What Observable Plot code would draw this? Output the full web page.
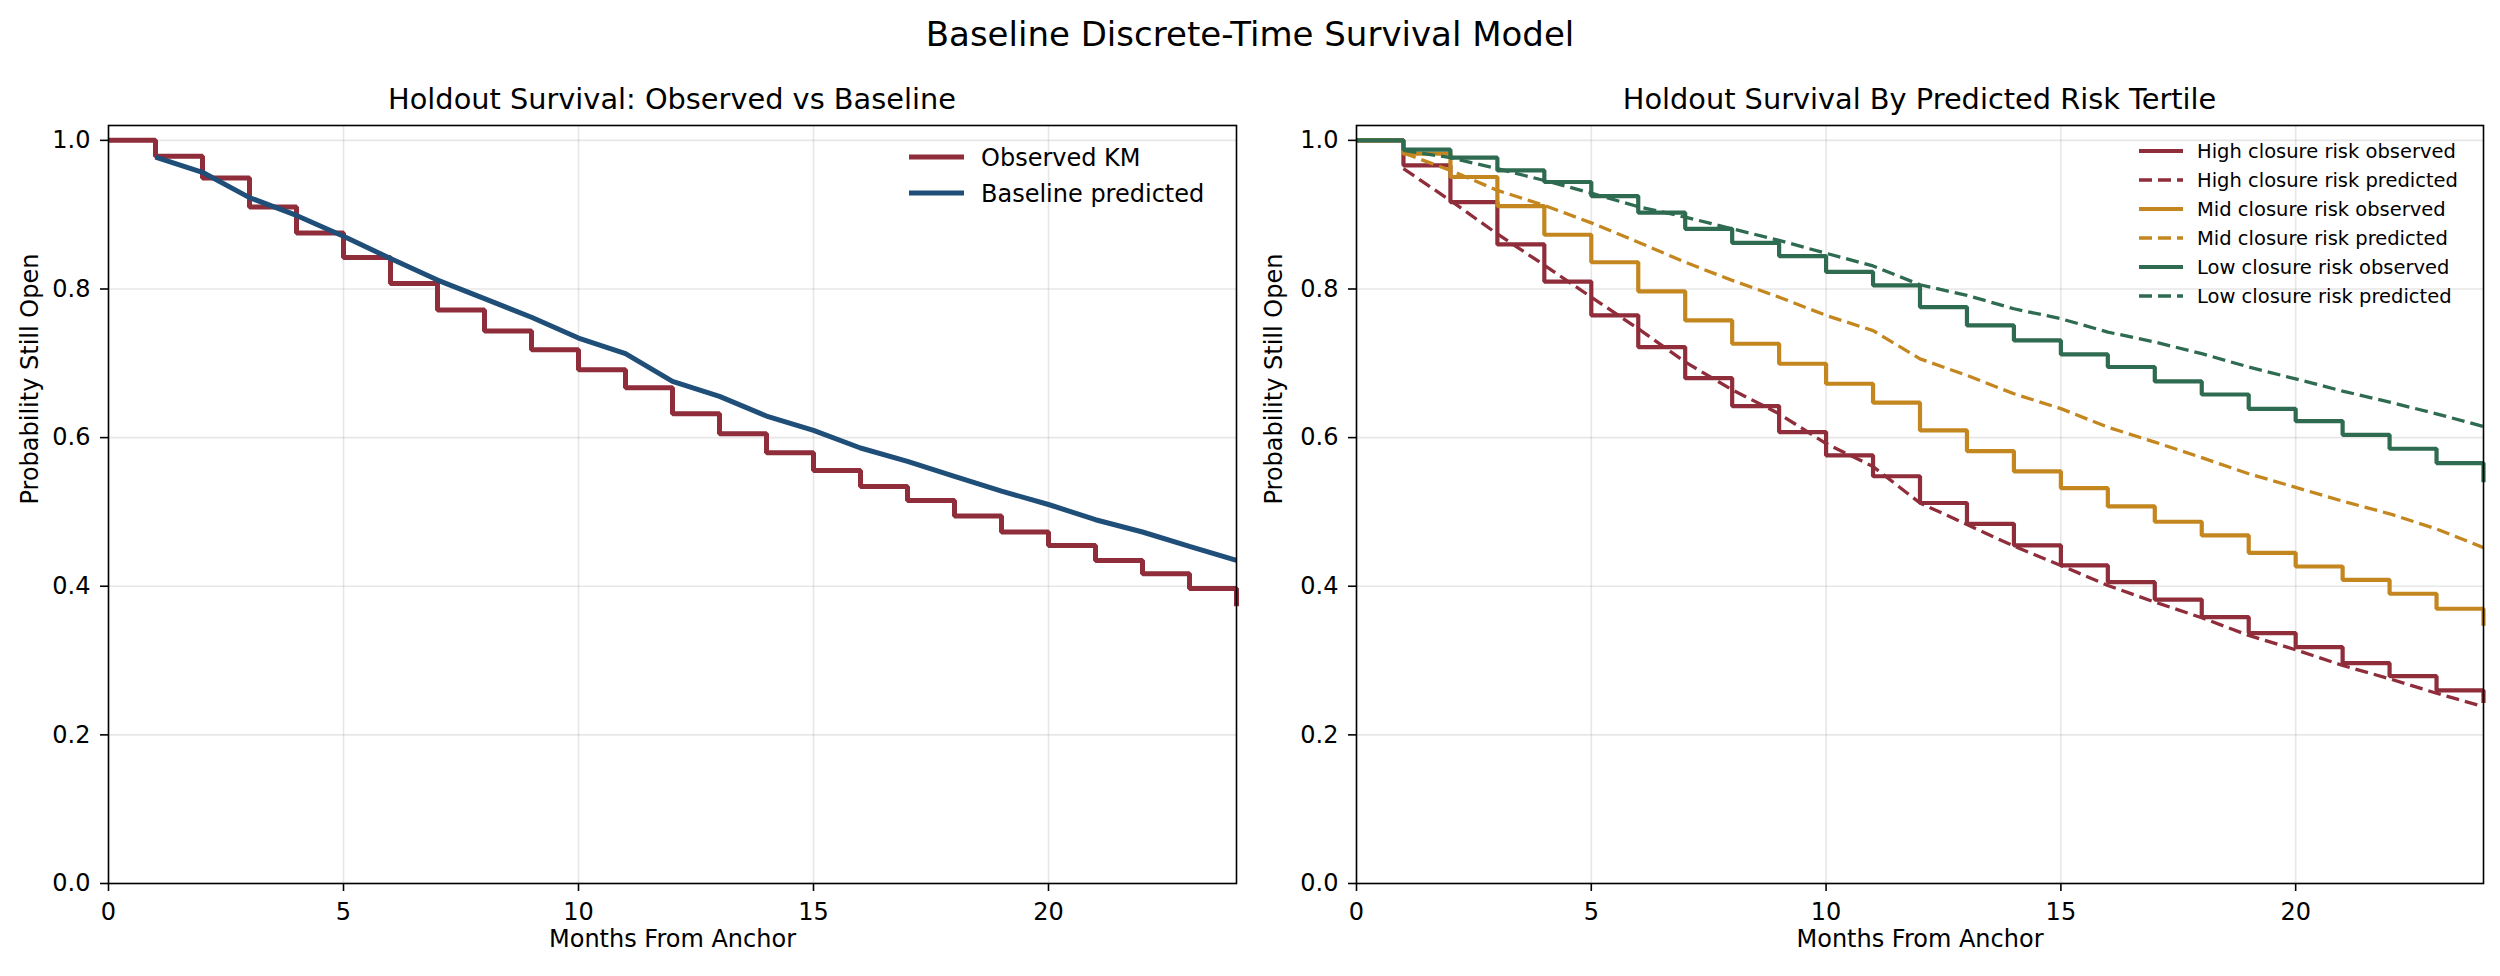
<!DOCTYPE html>
<html><head><meta charset="utf-8">
<script src="https://cdn.jsdelivr.net/npm/d3@7"></script>
<script src="https://cdn.jsdelivr.net/npm/@observablehq/plot@0.6"></script>
<style>
html,body{margin:0;padding:0;background:#fff;}
#wrap{position:relative;width:2500px;height:976px;overflow:hidden;font-family:"DejaVu Sans";color:#000;}
.abs{position:absolute;white-space:nowrap;line-height:1;}
</style></head><body><div id="wrap"></div>
<script>
// ---------- data ----------
const obsMonths = d3.range(0, 25);      // 0..24
const predMonths = d3.range(1, 25);     // 1..24

const observedKM = [1.0,0.9785,0.9493,0.9103,0.8753,0.8425,0.8075,0.7717,0.7434,0.7183,0.6914,0.6671,0.6321,0.6052,0.5796,0.5559,0.5343,0.5155,0.4944,0.4729,0.4549,0.4347,0.4168,0.397,0.373];
const baselinePred = [0.9776,0.957,0.923,0.899,0.871,0.841,0.812,0.787,0.762,0.734,0.713,0.6756,0.6555,0.629,0.6097,0.586,0.568,0.548,0.528,0.510,0.4895,0.473,0.4536,0.4347];

const highObs = [1.0,0.9664,0.917,0.860,0.810,0.7645,0.7219,0.680,0.6425,0.6074,0.576,0.548,0.512,0.484,0.455,0.428,0.4055,0.382,0.3585,0.337,0.318,0.2965,0.279,0.2598,0.243];
const highPred = [0.962,0.919,0.874,0.832,0.789,0.7465,0.7017,0.6644,0.632,0.592,0.561,0.512,0.483,0.454,0.428,0.401,0.3787,0.3576,0.3338,0.3145,0.2934,0.2755,0.256,0.238];
const midObs = [1.0,0.982,0.9507,0.9116,0.873,0.836,0.7968,0.7577,0.7263,0.6994,0.6725,0.647,0.6097,0.5819,0.5545,0.532,0.5074,0.4868,0.4684,0.445,0.4266,0.4087,0.3899,0.3697,0.347];
const midPred = [0.983,0.9596,0.9327,0.9125,0.889,0.863,0.836,0.8116,0.789,0.7645,0.744,0.706,0.6837,0.659,0.639,0.614,0.594,0.573,0.5514,0.533,0.5145,0.4975,0.477,0.452];
const lowObs = [1.0,0.9875,0.9767,0.9596,0.944,0.925,0.9027,0.881,0.862,0.8443,0.823,0.805,0.7757,0.751,0.7308,0.712,0.695,0.6756,0.658,0.6388,0.6222,0.6038,0.585,0.5657,0.540];
const lowPred = [0.9865,0.9767,0.962,0.946,0.929,0.9107,0.8968,0.881,0.8654,0.848,0.831,0.8057,0.7914,0.7734,0.76,0.742,0.7286,0.713,0.695,0.679,0.6626,0.6478,0.632,0.615];

const xTicks = [0, 5, 10, 15, 20];
const yTicks = [0, 0.2, 0.4, 0.6, 0.8, 1.0];

const C = {red:"#8f2d3b", blue:"#1f4e79", gold:"#c4861f", green:"#2e6b50"};

const rightSeries = [
  {name:"High closure risk observed", color:C.red, dashed:false, x:obsMonths, y:highObs},
  {name:"High closure risk predicted", color:C.red, dashed:true, x:predMonths, y:highPred},
  {name:"Mid closure risk observed", color:C.gold, dashed:false, x:obsMonths, y:midObs},
  {name:"Mid closure risk predicted", color:C.gold, dashed:true, x:predMonths, y:midPred},
  {name:"Low closure risk observed", color:C.green, dashed:false, x:obsMonths, y:lowObs},
  {name:"Low closure risk predicted", color:C.green, dashed:true, x:predMonths, y:lowPred}
];
const leftSeries = [
  {name:"Observed KM", color:C.red, dashed:false, x:obsMonths, y:observedKM},
  {name:"Baseline predicted", color:C.blue, dashed:false, x:predMonths, y:baselinePred}
];

const toRows = (xs, ys) => xs.map((m, i) => ({m, v: ys[i]}));

// ---------- layout ----------
const wrap = document.getElementById("wrap");
function addText(txt, left, top, size, align) {
  const d = document.createElement("div");
  d.className = "abs";
  d.textContent = txt;
  d.style.fontSize = size + "px";
  d.style.top = top + "px";
  if (align === "center") { d.style.left = left + "px"; d.style.transform = "translateX(-50%)"; }
  else d.style.left = left + "px";
  wrap.appendChild(d);
  return d;
}

function panel(series, opts) {
  const marks = [
    Plot.gridX(xTicks, {stroke:"#b0b0b0", strokeOpacity:0.3, strokeWidth:1.6}),
    Plot.gridY(yTicks, {stroke:"#b0b0b0", strokeOpacity:0.3, strokeWidth:1.6})
  ];
  for (const s of series) {
    marks.push(Plot.line(toRows(s.x, s.y), {
      x:"m", y:"v",
      curve: s.dashed ? "linear" : (s.x[0] === 0 ? "step-after" : "linear"),
      stroke: s.color,
      strokeWidth: s.dashed ? opts.dashW : opts.solidW,
      strokeDasharray: s.dashed ? "13,6" : null,
      strokeLinejoin: "miter", strokeLinecap: "butt"
    }));
  }
  marks.push(
    Plot.frame({stroke:"#000", strokeWidth:1.6}),
    Plot.axisX(xTicks, {tickSize:8, tickPadding:11, label:null, strokeWidth:1.6, fontSize:24}),
    Plot.axisY(yTicks, {tickSize:8, tickPadding:10, label:null, strokeWidth:1.6, fontSize:24, tickFormat:d=>d.toFixed(1)}),
    Plot.text(["Probability Still Open"], {frameAnchor:"left", rotate:-90, dx:opts.ylabDx, text:d=>d, fontSize:24, fill:"#000"}),
    Plot.text(["Months From Anchor"], {frameAnchor:"bottom", dy:63, text:d=>d, fontSize:24, fill:"#000"})
  );
  const svg = Plot.plot({
    width:1250, height:976,
    marginTop:125, marginBottom:93, marginLeft:opts.ml, marginRight:opts.mr,
    x:{domain:[0,24]}, y:{domain:[0,1.02]},
    style:{fontFamily:"DejaVu Sans", fontSize:"24px", color:"#000", background:"transparent", overflow:"visible"},
    marks
  });
  svg.style.position = "absolute";
  svg.style.left = opts.left + "px";
  svg.style.top = "0px";
  wrap.appendChild(svg);
}

panel(leftSeries, {left:0, ml:108, mr:14, solidW:5, dashW:4, ylabDx:-78});
panel(rightSeries, {left:1250, ml:106, mr:17, solidW:4.2, dashW:3.3, ylabDx:-82});

// titles
addText("Baseline Discrete-Time Survival Model", 1250, 17, 34, "center");
addText("Holdout Survival: Observed vs Baseline", 672, 85, 28.8, "center");
addText("Holdout Survival By Predicted Risk Tertile", 1919.5, 85, 28.8, "center");

// legends (overlay svg)
const ns = "http://www.w3.org/2000/svg";
const ov = document.createElementNS(ns, "svg");
ov.setAttribute("width", 2500); ov.setAttribute("height", 976);
ov.style.position = "absolute"; ov.style.left = "0"; ov.style.top = "0";
ov.style.fontFamily = "DejaVu Sans";
wrap.appendChild(ov);
function legend(series, x0, x1, tx, y0, dy, size, solidW, dashW) {
  series.forEach((s, i) => {
    const y = y0 + i * dy;
    const l = document.createElementNS(ns, "line");
    l.setAttribute("x1", x0); l.setAttribute("x2", x1);
    l.setAttribute("y1", y); l.setAttribute("y2", y);
    l.setAttribute("stroke", s.color);
    l.setAttribute("stroke-width", s.dashed ? dashW : solidW);
    if (s.dashed) l.setAttribute("stroke-dasharray", "13,6");
    ov.appendChild(l);
    const t = document.createElementNS(ns, "text");
    t.setAttribute("x", tx); t.setAttribute("y", y);
    t.setAttribute("dy", "0.36em");
    t.setAttribute("font-size", size);
    t.textContent = s.name;
    ov.appendChild(t);
  });
}
legend(leftSeries, 909, 964, 981, 157, 36, 24, 5, 4);
legend(rightSeries, 2139, 2183, 2197, 151, 29, 19.5, 4.2, 3.3);
</script></body></html>
